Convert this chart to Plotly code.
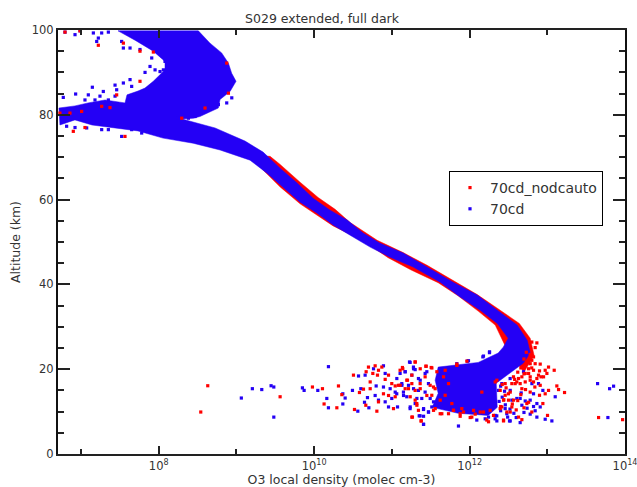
import numpy as np
import plotly.graph_objects as go

# Dense envelope of each series: log10(density), altitude in km
blue_band_logx = [7.476,8.510,8.660,8.810,8.896,8.939,8.995,8.918,8.789,8.767,8.531,8.445,8.300,8.660,8.725,
    9.111,9.343,9.562,9.781,9.987,10.206,10.424,10.631,10.849,11.145,11.454,11.789,12.098,12.394,12.613,12.742,12.781,12.690,
    12.484,12.343,12.356,12.240,11.853,11.519,11.596,11.557,11.596,12.111,12.368,12.433,12.497,12.356,12.137,11.879,11.622,
    11.274,10.978,10.720,10.463,10.244,10.038,9.819,9.600,9.394,9.175,8.789,8.442,8.055,7.733,7.437,7.141,6.922,6.729,6.716,
    6.922,7.090,7.309,7.566,7.592,7.733,7.823,7.930,8.081,8.081,7.930,7.695,7.476]
blue_band_alt = [99.8,99.8,96.9,94.6,92.2,89.8,87.9,85.5,83.6,81.6,79.6,79.2,79.0,77.3,76.9,
    73.8,71.2,67.4,63.9,60.3,57.5,55.2,52.1,49.7,47.4,44.1,40.5,37.5,33.4,30.4,26.8,23.8,21.4,
    18.6,16.7,11.0,9.1,9.6,11.0,14.3,17.4,20.5,21.6,23.8,25.2,27.3,30.8,33.9,37.0,40.5,
    44.1,46.4,48.8,51.6,54.0,56.8,59.4,62.9,66.2,69.3,71.7,73.3,74.5,76.2,76.9,77.6,78.8,77.6,81.6,
    82.1,82.8,83.5,82.8,84.7,85.6,86.3,87.9,90.6,92.6,95.0,97.6,99.8]
red_band_logx = [9.433,9.562,9.819,10.051,10.270,10.463,10.811,11.145,11.454,11.789,12.098,12.394,12.640,12.780,12.830,12.700,12.459,12.330,12.111,11.853,11.596,11.248,10.952,10.631,10.244,9.819,9.562,9.304,9.111,9.433]
red_band_alt = [70.2,68.3,64.1,60.5,57.7,54.6,50.4,47.5,44.5,40.9,37.6,33.9,30.8,27.3,23.3,19.3,25.5,30.4,33.7,37.3,40.4,43.4,46.3,50.3,53.8,59.0,63.0,67.7,70.5,70.2]

# Scattered soundings
red_logx = [8.631,8.541,9.562,9.978,10.107,10.313,10.128,10.292,10.356,10.506,10.519,10.583,10.635,10.669,10.699,10.785,10.871,10.755,10.815,10.828,10.721,10.721,10.665,10.807,10.828,10.914,10.957,10.999,10.957,10.892,11.043,11.107,11.141,11.021,11.043,11.171,11.201,11.300,11.257,11.377,11.300,11.365,11.442,11.515,11.579,11.558,11.643,11.729,11.365,11.450,11.257,11.322,11.493,11.236,
12.801,12.866,12.844,12.823,12.780,12.844,12.909,13.016,13.089,12.973,12.995,12.887,12.780,12.673,12.608,12.716,12.823,12.909,13.123,13.145,13.222,13.016,12.973,12.900,12.780,12.673,12.544,12.458,12.501,12.737,12.943,12.801,13.003,12.673,12.630,12.523,12.437,12.308,12.222,12.008,11.879,13.660,13.969,12.415,12.179,12.072,11.793,
11.622,11.793,11.922,12.351,12.394,12.523,12.566,12.394,12.137,12.265,12.480,11.536,11.665,11.836,12.737,12.801,12.759,12.823,12.716,12.630,12.587,12.780,12.866,12.952,12.651,12.565,
6.794,6.987,7.223,7.759,7.931,7.759,7.459,7.373,7.266,6.858,6.729,7.008,7.051,6.901,7.566,7.545,8.296,8.875,8.897,8.596,
11.106,11.300,11.437,11.506,11.136,11.192,11.257,11.364,11.214,11.300,11.085,11.265,11.377,11.342,11.321,11.514,11.536,11.622,11.686,11.772,11.729,11.686,11.836,11.965,11.900,12.051,12.158,11.879,12.029,12.244,12.437,12.330,12.458,12.437,12.544,11.428,11.557,
12.42,12.47,12.50,12.44,12.40,12.55,12.62,12.60,12.70,12.76,12.66,12.72,12.62,12.66,12.70,12.76,12.58,12.80,12.90,12.92,12.84,12.70,12.73,12.78]
red_alt = [16.1,9.9,13.5,15.8,15.4,16.05,11.8,10.9,14.0,18.6,10.5,14.5,15.3,19.4,20.5,20.8,20.5,19.0,18.6,19.75,17.0,15.4,11.5,10.1,12.3,17.6,18.6,16.6,13.8,14.2,16.05,16.2,20.1,10.7,13.5,15.4,17.4,21.7,8.7,7.8,12.7,20.1,20.7,20.3,19.4,10.7,9.5,9.5,15.4,13.8,18.6,11.5,16.2,13.5,
26.4,26.2,25.1,22.9,21.3,21.3,21.2,20.5,19.75,19.75,19.0,18.6,18.2,18.2,17.0,17.0,17.0,16.2,16.05,15.2,14.5,15.0,14.2,13.85,14.6,15.4,16.6,13.85,12.7,11.9,11.9,9.9,9.1,8.1,8.7,9.9,8.0,9.1,8.0,8.6,8.9,8.6,8.1,11.1,9.9,9.4,10.3,
12.7,10.3,9.9,17.4,15.0,14.6,12.7,10.7,9.9,10.3,9.9,15.8,18.2,20.9,21.7,22.1,20.1,19.75,19.0,17.8,16.6,17.4,17.8,18.2,16.6,18.2,
99.5,99.8,96.4,95.0,94.8,87.9,84.7,81.7,82.0,80.4,80.4,80.8,77.0,76.1,74.9,96.9,79.2,92.2,85.1,81.6,
19.75,21.7,20.7,20.4,20.4,17.4,16.6,16.6,15.4,15.0,16.2,8.7,7.8,10.3,11.9,13.85,10.3,9.5,13.85,11.9,16.6,19.75,21.2,21.9,10.7,10.3,14.6,9.5,8.7,7.6,7.8,17.0,16.6,12.7,11.1,18.2,15.4,
16.4,15.6,14.2,12.8,11.2,11.8,12.6,10.4,10.9,12.2,14.0,15.2,19.3,20.3,18.9,19.0,17.6,20.3,19.6,18.2,15.8,22.4,24.0,23.5]

blue_logx = [9.205,9.326,9.446,9.481,9.063,9.481,9.849,9.871,10.047,10.184,10.163,10.184,10.369,10.399,10.369,10.493,10.571,10.656,10.601,10.686,10.648,10.704,10.562,10.785,10.798,10.892,10.914,10.892,10.764,10.828,10.957,10.978,11.064,11.171,11.227,11.279,11.150,11.073,11.236,11.352,11.408,11.408,11.408,11.472,11.536,11.279,11.365,11.450,11.322,11.214,11.129,10.999,10.914,11.043,
12.256,12.171,11.973,13.647,13.853,13.802,13.780,13.102,12.943,12.823,12.664,12.523,12.887,12.802,12.694,12.780,12.716,12.866,12.909,12.844,12.823,12.651,12.608,12.673,12.780,12.866,12.973,13.059,12.514,12.351,12.651,11.857,12.329,12.093,12.479,12.244,
6.794,6.923,6.987,7.159,7.223,7.202,7.266,7.352,7.523,7.545,7.631,7.759,7.910,7.824,7.953,7.888,8.060,8.017,7.631,7.545,7.438,7.652,7.459,7.287,7.146,6.931,6.772,7.094,7.051,7.352,7.438,7.244,7.180,6.815,6.923,7.073,7.266,7.352,7.523,7.652,7.781,8.940,8.875,8.768,8.682,8.596,8.468,8.382,8.253,8.317,8.081,7.824,
11.235,11.278,11.300,11.257,11.171,11.106,11.063,11.149,11.192,11.235,11.300,11.364,11.471,11.407,11.407,11.342,11.428,11.471,11.428,11.342,11.385,11.493,11.514,11.128,12.257,12.179,11.986,11.836,12.201,12.330,12.523,12.458,12.544,12.415,12.522,12.373,
12.40,12.45,12.42,12.38,12.46,12.52,12.40,12.57,12.35,12.49,12.60,12.70,12.74]
blue_alt = [15.4,15.2,16.1,15.8,13.2,8.7,15.6,15.0,15.0,20.6,13.1,10.9,14.2,13.2,11.8,15.0,18.4,18.6,15.4,13.3,12.2,10.9,10.1,13.8,16.05,15.8,19.0,20.8,20.1,12.7,11.1,15.4,17.8,19.4,21.7,20.1,13.8,11.1,11.1,9.0,8.9,7.0,10.7,9.9,12.3,15.4,17.4,19.4,13.1,16.2,16.2,13.1,12.3,14.6,
23.9,22.9,21.9,16.6,16.0,15.4,8.6,13.5,15.0,14.2,14.4,15.0,16.6,16.6,19.4,12.7,12.5,11.9,11.1,10.2,11.2,13.1,13.1,11.5,9.4,8.7,8.2,7.8,7.8,7.8,7.4,6.6,8.3,8.0,9.5,8.7,
99.5,98.9,99.8,99.3,98.1,97.3,99.3,99.5,97.3,95.75,95.75,95.4,93.4,90.0,90.6,91.4,90.6,90.2,88.3,87.5,87.0,86.7,85.9,85.5,86.5,84.9,84.1,84.7,83.5,83.5,84.4,84.4,83.5,77.3,77.0,76.9,76.5,76.5,74.9,76.5,75.7,84.0,82.8,82.4,81.6,82.4,79.6,79.2,79.2,80.0,92.6,97.3,
21.6,20.5,19.9,18.6,19.4,19.0,14.2,14.6,13.5,10.7,11.9,9.0,9.9,7.0,10.5,17.8,19.0,16.6,14.6,15.0,13.1,13.1,11.1,16.6,24.1,23.1,22.0,21.3,8.3,9.1,7.8,10.7,12.7,16.6,17.8,15.0,
16.0,14.8,13.4,12.4,11.6,10.6,10.2,9.6,9.0,8.7,8.6,9.8,10.8]

assert len(blue_band_logx) == len(blue_band_alt) and len(red_band_logx) == len(red_band_alt)
assert len(red_logx) == len(red_alt) and len(blue_logx) == len(blue_alt)

x_major = [8, 10, 12, 14]
x_major_labels = ["10<sup>8</sup>", "10<sup>10</sup>", "10<sup>12</sup>", "10<sup>14</sup>"]
x_minor = [7, 9, 11, 13]
y_major = [0, 20, 40, 60, 80, 100]
y_minor = [5,10,15,25,30,35,45,50,55,65,70,75,85,90,95]

RED = "#ff0000"
BLUE = "#2400f5"
FONT = "DejaVu Sans"
INK = "#333333"

def pow10(values):
    return (10.0 ** np.array(values)).tolist()

fig = go.Figure()
fig.add_trace(go.Scatter(x=pow10(red_band_logx), y=red_band_alt, mode="lines", fill="toself",
                         fillcolor=RED, line=dict(color=RED, width=0.5), showlegend=False, hoverinfo="skip"))
fig.add_trace(go.Scatter(x=pow10(blue_band_logx), y=blue_band_alt, mode="lines", fill="toself",
                         fillcolor=BLUE, line=dict(color=BLUE, width=0.5), showlegend=False, hoverinfo="skip"))
fig.add_trace(go.Scatter(x=pow10(blue_logx), y=blue_alt, mode="markers", name="70cd", legendrank=2,
                         marker=dict(color=BLUE, symbol="square", size=3.2, line=dict(width=0))))
fig.add_trace(go.Scatter(x=pow10(red_logx), y=red_alt, mode="markers", name="70cd_nodcauto", legendrank=1,
                         marker=dict(color=RED, symbol="square", size=3.2, line=dict(width=0))))

fig.update_layout(
    width=637, height=487, autosize=False,
    margin=dict(l=58, r=12, t=30, b=33),
    paper_bgcolor="white", plot_bgcolor="white",
    font=dict(family=FONT, size=11, color=INK),
    title=dict(text="S029 extended, full dark", x=322/637, xanchor="center", xref="container",
               y=1-19/487, yanchor="middle", font=dict(family=FONT, size=12.5, color=INK)),
    legend=dict(x=(449-58)/567, y=1-(171-30)/424, xanchor="left", yanchor="top",
                bgcolor="white", bordercolor="black", borderwidth=1,
                font=dict(family=FONT, size=14, color=INK), itemsizing="trace",
                itemwidth=30, traceorder="normal"),
)
fig.update_xaxes(
    type="log", range=[6.704, 14], automargin=False, showgrid=False, zeroline=False,
    showline=True, linecolor="#222222", linewidth=2, mirror="allticks",
    ticks="inside", ticklen=8, tickwidth=2, tickcolor="#222222",
    tickmode="array", tickvals=pow10(x_major), ticktext=x_major_labels,
    ticklabeloverflow="allow",
    minor=dict(ticks="inside", ticklen=5, tickwidth=1.5, tickcolor="#222222",
               tickmode="array", tickvals=pow10(x_minor), showgrid=False),
    title=dict(text="O3 local density (molec cm-3)", standoff=2, font=dict(size=12.5, color=INK)),
    tickfont=dict(size=11.5, color=INK),
)
fig.update_yaxes(
    range=[0, 100], automargin=False, showgrid=False, zeroline=False,
    showline=True, linecolor="#111111", linewidth=2, mirror="allticks",
    ticks="inside", ticklen=12, tickwidth=1.5, tickcolor="#222222",
    tickmode="array", tickvals=y_major,
    minor=dict(ticks="inside", ticklen=6, tickwidth=1.5, tickcolor="#222222",
               tickmode="array", tickvals=y_minor, showgrid=False),
    title=dict(text="Altitude (km)", standoff=8, font=dict(size=12.5, color=INK)),
    tickfont=dict(size=11.5, color=INK),
)
fig.write_html("out.html", config={"displayModeBar": False}, post_script="document.body.style.margin='0';")
